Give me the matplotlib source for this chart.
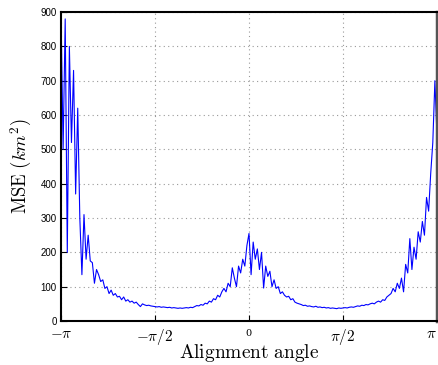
import numpy as np
import matplotlib
matplotlib.use('Agg')
import matplotlib.pyplot as plt

plt.rcParams['mathtext.fontset'] = 'cm'
plt.rcParams['font.family'] = ['Liberation Sans', 'DejaVu Sans']

# MSE sampled every 2 degrees from -180 to 180
mse = [900, 500, 880, 200, 800, 520, 730, 370, 620, 300,
       135, 310, 180, 250, 175, 170, 110, 150, 135, 115,
       120, 95, 100, 80, 90, 75, 80, 70, 72, 62,
       70, 58, 62, 55, 58, 52, 55, 48, 42, 50,
       47, 45, 46, 44, 43, 42, 41, 42, 40, 41,
       40, 39, 40, 38, 39, 38, 37, 38, 37, 38,
       39, 38, 40, 39, 42, 45, 44, 48, 46, 52,
       50, 58, 55, 65, 62, 75, 70, 85, 95, 85,
       110, 100, 155, 125, 100, 160, 140, 180, 160, 220,
       255, 135, 230, 180, 210, 150, 200, 96, 160, 130,
       145, 100, 120, 95, 100, 80, 85, 75, 70, 72,
       62, 65, 55, 52, 50, 48, 45, 46, 43, 44,
       42, 41, 43, 40, 41, 39, 40, 38, 39, 37,
       38, 37, 36, 38, 37, 38, 39, 38, 40, 41,
       40, 42, 44, 43, 46, 45, 48, 47, 50, 52,
       50, 55, 58, 55, 62, 60, 70, 75, 80, 95,
       85, 110, 95, 125, 85, 165, 140, 240, 150, 215,
       180, 260, 230, 290, 250, 360, 320, 430, 520, 700,
       540]
angle_deg = np.linspace(-180, 180, len(mse))
angle = np.deg2rad(angle_deg)

xticks = [-np.pi, -np.pi / 2, 0, np.pi / 2, np.pi]
xticklabels = [r'$-\pi$', r'$-\pi/2$', r'$\mathregular{0}$', r'$\pi/2$', r'$\pi$']

fig = plt.figure(figsize=(4.39, 3.65), dpi=100)
ax = fig.add_axes([0.139, 0.1205, 0.8564, 0.8465])
ax.plot(angle, mse, color='blue', lw=0.8)

ax.set_xlim(-np.pi, np.pi)
ax.set_ylim(0, 900)
ax.set_yticks(range(0, 901, 100))
ax.set_xticks(xticks)
ax.set_xticklabels(xticklabels, fontsize=11)
labs = ax.get_xticklabels()
labs[2].set_fontsize(7)
labs[2].set_family('DejaVu Serif')
labs[-1].set_horizontalalignment('right')
ax.tick_params(axis='y', labelsize=7, direction='in', length=4, pad=3)
ax.tick_params(axis='x', direction='in', length=4, pad=4)
ax.grid(True, linestyle=(0, (1, 3)), color='#999999', lw=0.8)

for s in ['left', 'bottom', 'top']:
    ax.spines[s].set_linewidth(1.5)
ax.spines['right'].set_linewidth(2.5)
ax.spines['right'].set_color('#555555')

ax.set_xlabel(r'$\mathrm{Alignment\ angle}$', fontsize=14, labelpad=-3)
ax.set_ylabel(r'$\mathrm{MSE}\ (km^2)$', fontsize=13.5, labelpad=5)

fig.savefig('out.png', dpi=100)
